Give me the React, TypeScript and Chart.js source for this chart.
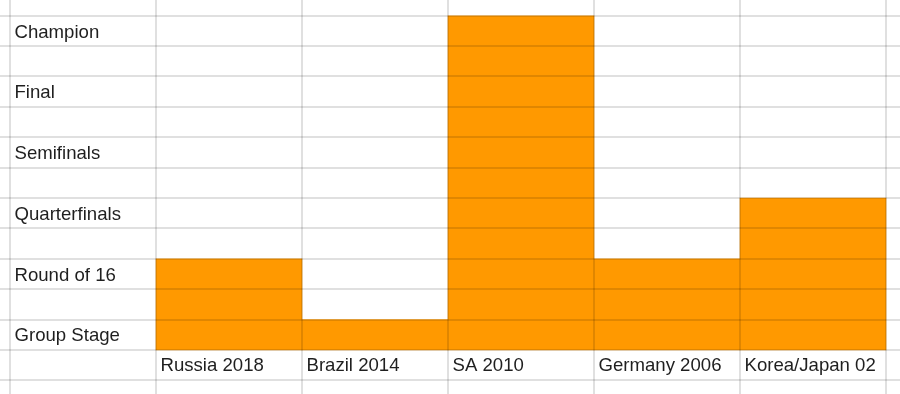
import { useEffect, useRef } from 'react';
import { Chart, registerables } from 'chart.js';

Chart.register(...registerables);

// ---- data ----
const teams = ['Russia 2018', 'Brazil 2014', 'SA 2010', 'Germany 2006', 'Korea/Japan 02'];
const stages = ['Group Stage', 'Round of 16', 'Quarterfinals', 'Semifinals', 'Final', 'Champion'];
const stageLevels = [1, 3, 5, 7, 9, 11];
const teamLevels = [3, 1, 11, 3, 5];
const teamCenters = [0.5, 1.5, 2.5, 3.5, 4.5];
const xTickValues = [-0.5, 0.5, 1.5, 2.5, 3.5, 4.5];
const yTickValues = [-0.5, 0.5, 1.5, 2.5, 3.5, 4.5, 5.5, 6.5, 7.5, 8.5, 9.5, 10.5];

const FONT = { family: "'Liberation Sans', Arial, sans-serif", size: 18.6, lineHeight: 1.2 };
const TEXT = '#1f1f1f';
const GRID = 'rgba(0,0,0,0.12)';

function noPadding(s: any) {
  s._calculatePadding = function () {
    this.paddingLeft = 0;
    this.paddingRight = 0;
    this.paddingTop = 0;
    this.paddingBottom = 0;
  };
}

export default function App() {
  const ref = useRef<HTMLCanvasElement | null>(null);

  useEffect(() => {
    if (!ref.current) return;
    const chart = new Chart(ref.current, {
      type: 'bar',
      data: {
        datasets: [
          {
            data: teamLevels.map((v, i) => ({ x: teamCenters[i], y: v })),
            backgroundColor: '#ff9900',
            borderWidth: 0,
            barPercentage: 1,
            categoryPercentage: 1,
          },
        ],
      },
      options: {
        responsive: false,
        animation: false,
        events: [],
        layout: { padding: 0, autoPadding: false },
        plugins: { legend: { display: false }, tooltip: { enabled: false } },
        scales: {
          x: {
            type: 'linear',
            position: 'bottom',
            offset: false,
            min: -1.0685,
            max: 5.096,
            bounds: 'data',
            beforeUpdate: noPadding,
            afterBuildTicks: (s: any) => {
              s.ticks = xTickValues.map((v) => ({ value: v }));
            },
            afterFit: (s: any) => {
              s.height = 0;
            },
            border: { display: false },
            grid: { offset: true, color: GRID, lineWidth: 2, drawTicks: false, z: 1 },
            ticks: {
              mirror: true,
              align: 'start',
              labelOffset: -68.5,
              padding: 16.5,
              autoSkip: false,
              maxRotation: 0,
              minRotation: 0,
              font: FONT,
              color: TEXT,
              callback: (value: any) => {
                const idx = teamCenters.indexOf(Number(value));
                return idx >= 0 ? teams[idx] : '';
              },
            },
          },
          y: {
            type: 'linear',
            position: 'left',
            offset: false,
            min: -1.448,
            max: 11.517,
            bounds: 'data',
            beforeUpdate: noPadding,
            afterBuildTicks: (s: any) => {
              s.ticks = yTickValues.map((v) => ({ value: v }));
            },
            afterFit: (s: any) => {
              s.width = 0;
            },
            border: { display: false },
            grid: { offset: true, color: GRID, lineWidth: 2, drawTicks: false, z: 1 },
            ticks: {
              mirror: true,
              crossAlign: 'near',
              padding: 14.5,
              labelOffset: 1.5,
              autoSkip: false,
              font: FONT,
              color: TEXT,
              callback: (value: any) => {
                const idx = stageLevels.map((l) => l - 0.5).indexOf(Number(value));
                return idx >= 0 ? stages[idx] : '';
              },
            },
          },
        },
      },
    } as any);
    return () => chart.destroy();
  }, []);

  return (
    <div style={{ position: 'absolute', left: 0, top: 0, width: 900, height: 394, background: '#ffffff' }}>
      <canvas ref={ref} width={900} height={394} style={{ display: 'block', width: 900, height: 394 }} />
    </div>
  );
}
